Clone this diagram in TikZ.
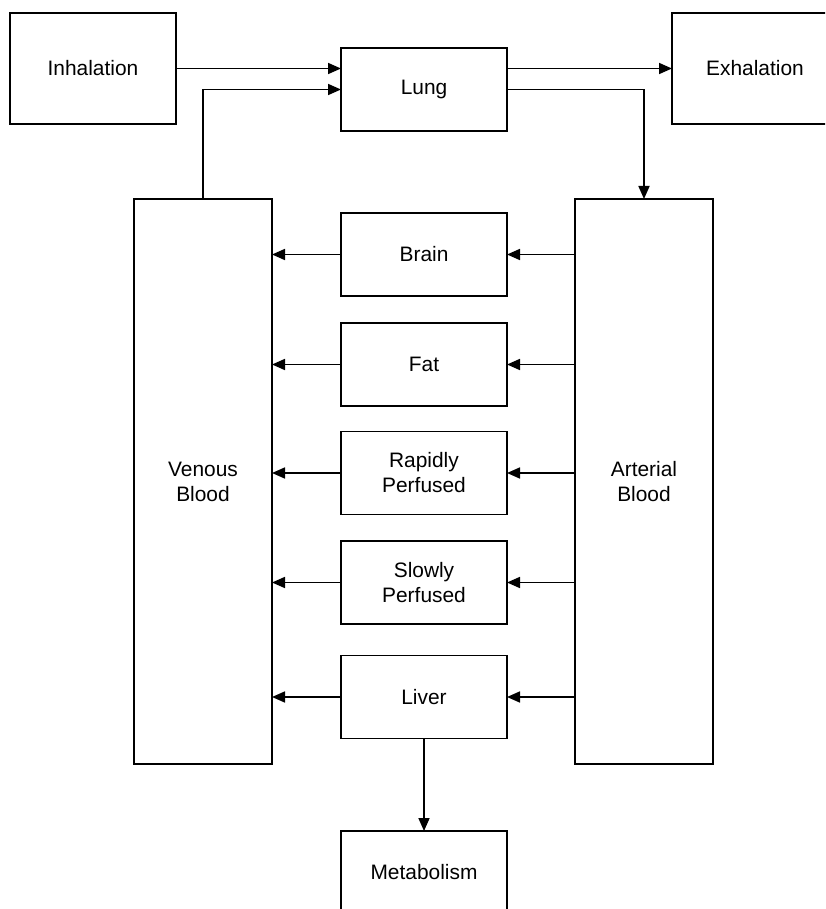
\documentclass[tikz,border=0pt]{standalone}
\usepackage{fontspec}
\setmainfont{Liberation Sans}
\usetikzlibrary{arrows.meta}
\begin{document}
\begin{tikzpicture}[x=1pt,y=-1pt,
  box/.style={draw, line width=1.7pt, rectangle, inner sep=0pt, outer sep=0pt,
    align=center, font=\fontsize{20.9}{25}\selectfont},
  organ/.style={box, minimum width=166pt, minimum height=83pt},
  blood/.style={box, minimum width=138pt, minimum height=565pt},
  conn/.style={line width=1.7pt, -{Triangle[length=13pt,width=11pt]}}]
\useasboundingbox (0,0) rectangle (825,909);
\clip (0,0) rectangle (825,909);
\node[box, minimum width=166pt, minimum height=111pt] (inh) at (93,68.5) {Inhalation};
\node[organ] (lung) at (424,89.5) {Lung};
\node[box, minimum width=166pt, minimum height=111pt] (exh) at (755,68.5) {Exhalation};
\node[blood] (ven) at (203,481.5) {Venous\\Blood};
\node[blood] (art) at (644,481.5) {Arterial\\Blood};
\node[organ] (brain) at (424,254.5) {Brain};
\node[organ] (fat) at (424,364.5) {Fat};
\node[organ] (rap) at (424,473) {Rapidly\\Perfused};
\node[organ] (slow) at (424,582.5) {Slowly\\Perfused};
\node[organ] (liver) at (424,697) {Liver};
\node[organ] (met) at (424,872.5) {Metabolism};
\draw[conn] (inh.east) -- (inh.east -| lung.west);
\draw[conn] (ven.north) |- (lung.west);
\draw[conn] (exh.west -| lung.east) -- (exh.west);
\draw[conn] (lung.east) -| (art.north);
\foreach \o in {brain,fat,rap,slow,liver}{
  \draw[conn] (art.west |- \o.east) -- (\o.east);
  \draw[conn] (\o.west) -- (\o.west -| ven.east);
}
\draw[conn] (liver.south) -- (met.north);
\end{tikzpicture}
\end{document}
